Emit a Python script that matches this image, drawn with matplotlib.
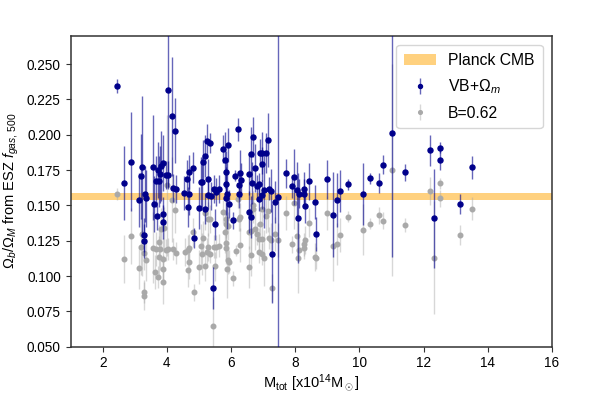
import matplotlib
matplotlib.use("Agg")
import matplotlib.pyplot as plt

plt.rcParams['font.family'] = ['Liberation Sans', 'DejaVu Sans']
plt.rcParams['mathtext.fontset'] = 'custom'
plt.rcParams['mathtext.rm'] = 'Liberation Sans'
plt.rcParams['mathtext.it'] = 'Liberation Sans:italic'
plt.rcParams['mathtext.bf'] = 'Liberation Sans:bold'

# Planck CMB band
planck_lo = 0.1535
planck_hi = 0.159

# VB + Omega_m series
vb_m = [2.46, 2.68, 2.88, 3.14, 3.21, 3.22, 3.32, 3.34, 3.28, 3.30,
        3.57, 3.61, 3.66, 3.76, 3.70, 3.74, 3.81, 3.89, 3.80, 3.88,
        3.87, 4.03, 3.97, 4.04, 4.17, 4.24, 4.18, 4.27, 4.55, 4.63,
        4.68, 4.81, 4.70, 4.65, 4.84, 4.99, 5.06, 5.10, 5.13, 5.20,
        5.24, 5.34, 5.20, 5.28, 5.28, 5.39, 5.46, 5.54, 5.62, 5.49,
        5.44, 5.76, 5.81, 5.92, 5.85, 5.85, 5.89, 5.83, 5.94, 6.07,
        6.21, 6.13, 6.28, 6.30, 6.25, 6.26, 6.55, 6.55, 6.65, 6.63,
        6.70, 6.76, 6.80, 6.87, 6.88, 6.91, 6.97, 6.96, 7.04, 7.10,
        7.15, 7.17, 7.23, 6.97, 6.63, 7.28, 7.38, 7.45, 7.71, 7.90,
        7.97, 8.07, 8.13, 8.09, 8.28, 8.27, 8.30, 8.42, 8.62, 8.64,
        8.99, 9.18, 9.30, 9.39, 9.64, 10.12, 10.32, 10.62, 10.72, 11.02,
        11.43, 12.21, 12.52, 12.52, 12.32, 13.12, 13.51]
vb_f = [0.2344, 0.166, 0.181, 0.154, 0.1705, 0.1775, 0.158, 0.155, 0.129, 0.125,
        0.177, 0.151, 0.167, 0.167, 0.1425, 0.175, 0.178, 0.180, 0.172, 0.144,
        0.138, 0.232, 0.1717, 0.1717, 0.213, 0.203, 0.1624, 0.1614, 0.159, 0.169,
        0.1736, 0.1768, 0.1584, 0.149, 0.1267, 0.148, 0.1666, 0.1666, 0.181, 0.185,
        0.1957, 0.194, 0.1477, 0.169, 0.1577, 0.1568, 0.1614, 0.1593, 0.1614, 0.1367,
        0.0917, 0.1897, 0.1822, 0.1927, 0.1736, 0.1652, 0.158, 0.155, 0.1512, 0.1395,
        0.2038, 0.171, 0.1729, 0.1682, 0.1647, 0.1584, 0.1453, 0.1724, 0.1659, 0.1864,
        0.1983, 0.1768, 0.1636, 0.1652, 0.1542, 0.1869, 0.1873, 0.1792, 0.1612, 0.1869,
        0.1962, 0.1619, 0.1605, 0.1577, 0.1416, 0.1157, 0.1523, 0.1561, 0.1726, 0.1635,
        0.1702, 0.1607, 0.1584, 0.1409, 0.1615, 0.1584, 0.1493, 0.167, 0.1523, 0.1295,
        0.1684, 0.1435, 0.154, 0.160, 0.1649, 0.1579, 0.1691, 0.1659, 0.1789, 0.2013,
        0.1733, 0.189, 0.1908, 0.1822, 0.1409, 0.1512, 0.177]
vb_err = [0.005, 0.026, 0.035, 0.019, 0.03, 0.05, 0.02, 0.02, 0.012, 0.012,
          0.037, 0.02, 0.018, 0.018, 0.01, 0.02, 0.025, 0.02, 0.02, 0.012,
          0.012, 0.069, 0.01, 0.01, 0.042, 0.023, 0.01, 0.01, 0.012, 0.013,
          0.012, 0.011, 0.015, 0.014, 0.007, 0.015, 0.018, 0.018, 0.015, 0.015,
          0.012, 0.007, 0.011, 0.014, 0.01, 0.01, 0.01, 0.01, 0.01, 0.011,
          0.015, 0.01, 0.02, 0.012, 0.015, 0.012, 0.025, 0.012, 0.01, 0.006,
          0.008, 0.004, 0.016, 0.012, 0.01, 0.01, 0.015, 0.015, 0.015, 0.019,
          0.014, 0.017, 0.008, 0.008, 0.008, 0.01, 0.015, 0.012, 0.027, 0.014,
          0.019, 0.008, 0.015, 0.01, 0.015, 0.035, 0.015, 0.14, 0.01, 0.008,
          0.02, 0.02, 0.01, 0.032, 0.012, 0.01, 0.012, 0.013, 0.012, 0.012,
          0.014, 0.03, 0.019, 0.015, 0.004, 0.022, 0.004, 0.007, 0.007, 0.088,
          0.006, 0.011, 0.004, 0.007, 0.035, 0.007, 0.008]

# B = 0.62 series
b_m = [2.46, 2.68, 2.88, 3.14, 3.21, 3.22, 3.28, 3.30, 3.34, 3.28,
       3.57, 3.66, 3.76, 3.79, 3.63, 3.71, 3.77, 3.89, 3.88, 3.87,
       3.82, 3.91, 3.96, 4.03, 4.00, 4.17, 4.24, 4.19, 4.28, 4.57,
       4.65, 4.68, 4.70, 4.65, 4.81, 4.84, 4.99, 5.06, 5.10, 5.13,
       5.20, 5.20, 5.28, 5.24, 5.34, 5.28, 5.35, 5.46, 5.49, 5.54,
       5.62, 5.44, 5.76, 5.85, 5.85, 5.85, 5.84, 5.92, 5.89, 5.94,
       5.80, 5.92, 6.07, 6.15, 6.28, 6.28, 6.26, 6.21, 6.55, 6.55,
       6.63, 6.63, 6.67, 6.70, 6.76, 6.80, 6.87, 6.91, 6.97, 6.97,
       6.88, 6.97, 7.04, 7.10, 7.16, 7.19, 7.23, 7.38, 7.45, 7.28,
       7.71, 7.90, 7.97, 8.07, 8.09, 8.13, 8.27, 8.28, 8.30, 8.42,
       8.62, 8.64, 8.99, 9.18, 9.30, 9.39, 9.64, 10.12, 10.32, 10.62,
       10.72, 11.02, 11.43, 12.21, 12.52, 12.52, 12.32, 13.12, 13.51]
b_f = [0.158, 0.1122, 0.1283, 0.1057, 0.1208, 0.1297, 0.0889, 0.0859, 0.1117, 0.116,
       0.1201, 0.1192, 0.1239, 0.1192, 0.103, 0.0994, 0.1134, 0.1122, 0.1048, 0.0955,
       0.1332, 0.1337, 0.1185, 0.1192, 0.1642, 0.154, 0.1467, 0.1192, 0.1162, 0.1169,
       0.1188, 0.1197, 0.1099, 0.1041, 0.1309, 0.0885, 0.1064, 0.1216, 0.1155, 0.1269,
       0.1068, 0.1449, 0.1402, 0.1169, 0.1155, 0.1208, 0.1402, 0.1208, 0.1068, 0.1208,
       0.1216, 0.065, 0.1456, 0.1402, 0.1367, 0.1234, 0.1197, 0.1113, 0.1048, 0.1101,
       0.1313, 0.1355, 0.0983, 0.118, 0.1222, 0.1418, 0.1402, 0.1542, 0.1309, 0.1064,
       0.1316, 0.115, 0.1477, 0.1502, 0.1332, 0.1297, 0.1262, 0.1372, 0.1262, 0.1472,
       0.1169, 0.1155, 0.1127, 0.1425, 0.146, 0.1269, 0.1255, 0.1297, 0.1255, 0.0917,
       0.1449, 0.1225, 0.1514, 0.1286, 0.1127, 0.1188, 0.1225, 0.1199, 0.1255, 0.1379,
       0.1134, 0.1127, 0.1444, 0.1216, 0.1225, 0.129, 0.1421, 0.1327, 0.1372, 0.1432,
       0.139, 0.1752, 0.136, 0.16, 0.1656, 0.1551, 0.113, 0.129, 0.1477]
b_err = [0.004, 0.017, 0.02, 0.015, 0.02, 0.03, 0.008, 0.01, 0.015, 0.012,
         0.025, 0.012, 0.012, 0.015, 0.012, 0.008, 0.015, 0.015, 0.01, 0.015,
         0.015, 0.015, 0.008, 0.008, 0.05, 0.03, 0.016, 0.008, 0.008, 0.01,
         0.01, 0.01, 0.012, 0.012, 0.01, 0.006, 0.012, 0.015, 0.015, 0.012,
         0.01, 0.012, 0.012, 0.01, 0.006, 0.01, 0.01, 0.008, 0.01, 0.008,
         0.008, 0.02, 0.008, 0.012, 0.01, 0.015, 0.01, 0.01, 0.02, 0.008,
         0.015, 0.01, 0.005, 0.004, 0.012, 0.01, 0.008, 0.006, 0.012, 0.015,
         0.015, 0.015, 0.01, 0.01, 0.015, 0.008, 0.008, 0.01, 0.01, 0.012,
         0.008, 0.008, 0.02, 0.012, 0.015, 0.008, 0.012, 0.012, 0.012, 0.01,
         0.012, 0.006, 0.018, 0.015, 0.025, 0.008, 0.008, 0.008, 0.01, 0.01,
         0.01, 0.008, 0.012, 0.025, 0.015, 0.012, 0.004, 0.018, 0.004, 0.006,
         0.006, 0.075, 0.005, 0.01, 0.004, 0.006, 0.04, 0.007, 0.008]

fig = plt.figure(figsize=(5.98, 3.94), dpi=100)
ax = fig.add_axes([0.118, 0.12, 0.805, 0.789])

band = ax.axhspan(planck_lo, planck_hi, color='orange', alpha=0.5, lw=0,
                  label='Planck CMB', zorder=1)

grey = ax.errorbar(b_m, b_f, yerr=b_err, fmt='o', color='darkgray', ms=3.3,
                   elinewidth=1, ecolor=(0.66, 0.66, 0.66, 0.45),
                   label='B=0.62', zorder=2)
blue = ax.errorbar(vb_m, vb_f, yerr=vb_err, fmt='o', color='darkblue', ms=3.6,
                   elinewidth=1, ecolor=(0.0, 0.0, 0.55, 0.6),
                   label=r'VB+$\Omega_m$', zorder=3)

ax.set_xlim(1, 16)
ax.set_ylim(0.05, 0.27)
ax.set_xticks(range(2, 17, 2))
ax.set_yticks([0.05, 0.075, 0.1, 0.125, 0.15, 0.175, 0.2, 0.225, 0.25])
ax.yaxis.set_major_formatter(matplotlib.ticker.FormatStrFormatter('%.3f'))
ax.tick_params(labelsize=9.8, length=3.5, color='#333333')
for s in ax.spines.values():
    s.set_color('#333333')
    s.set_linewidth(1.1)

ax.set_xlabel(r'M$_{\rm tot}$ [x10$^{14}$M$_\odot$]', fontsize=10.5, labelpad=1)
ax.set_ylabel(r'$\Omega_b/\Omega_M$ from ESZ $f_{gas,\,500}$', fontsize=10.5)

ax.legend([band, blue, grey], ['Planck CMB', r'VB+$\Omega_m$', 'B=0.62'],
          loc='upper right', fontsize=11.3, markerscale=0.8,
          labelspacing=0.6, borderpad=0.5, borderaxespad=0.6)

fig.savefig('out.png', dpi=100)
